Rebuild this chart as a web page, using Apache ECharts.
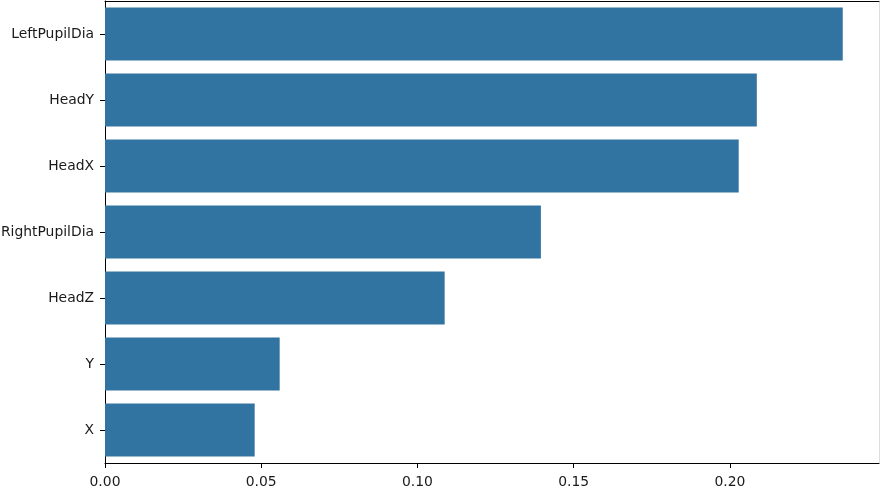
<!DOCTYPE html>
<html>
<head>
<meta charset="utf-8">
<script src="https://cdn.jsdelivr.net/npm/echarts@6/dist/echarts.min.js"></script>
<style>
  html, body { margin: 0; padding: 0; background: #fff; }
  #chart { width: 880px; height: 493px; }
</style>
</head>
<body>
<div id="chart"></div>
<script>
// feature importances
const features = ['LeftPupilDia', 'HeadY', 'HeadX', 'RightPupilDia', 'HeadZ', 'Y', 'X']
const importance = [0.2361, 0.2086, 0.2028, 0.1395, 0.1087, 0.0559, 0.0479]
const xTicks = [0, 0.05, 0.1, 0.15, 0.2]

const font = 'DejaVu Sans'
const black = '#000'

const plot = echarts.init(document.getElementById('chart'), null, { renderer: 'canvas' })

plot.setOption({
  animation: false,
  grid: { left: 105, right: 1, top: 1, bottom: 30, containLabel: false, outerBoundsMode: 'none' },
  xAxis: [{
    type: 'value',
    min: 0,
    max: 0.2477,
    interval: 0.05,
    axisLine: { show: true, lineStyle: { color: black, width: 1 } },
    axisTick: { show: true, length: 5, lineStyle: { color: black } },
    axisLabel: {
      color: '#1a1a1a',
      fontFamily: font,
      fontSize: 13.9,
      margin: 12,
      showMaxLabel: false,
      formatter: v => xTicks.some(t => Math.abs(t - v) < 1e-9) ? v.toFixed(2) : ''
    },
    splitLine: { show: false }
  }, {
    type: 'value',
    position: 'top',
    min: 0,
    max: 0.2477,
    axisLine: { show: true, onZero: false, lineStyle: { color: black, width: 1 } },
    axisTick: { show: false },
    axisLabel: { show: false },
    splitLine: { show: false }
  }],
  yAxis: [{
    type: 'category',
    data: features,
    inverse: true,
    axisLine: { show: true, lineStyle: { color: black, width: 1 } },
    axisTick: { show: true, length: 5, alignWithLabel: true, lineStyle: { color: black } },
    axisLabel: { color: '#1a1a1a', fontFamily: font, fontSize: 13.9, margin: 11 }
  }, {
    type: 'category',
    data: features,
    inverse: true,
    position: 'right',
    axisLine: { show: true, onZero: false, lineStyle: { color: '#ddd', width: 1 } },
    axisTick: { show: false },
    axisLabel: { show: false }
  }],
  series: [{
    type: 'bar',
    data: importance,
    barWidth: '80%',
    itemStyle: { color: '#3274a1', borderWidth: 0 }
  }]
})
</script>
</body>
</html>
